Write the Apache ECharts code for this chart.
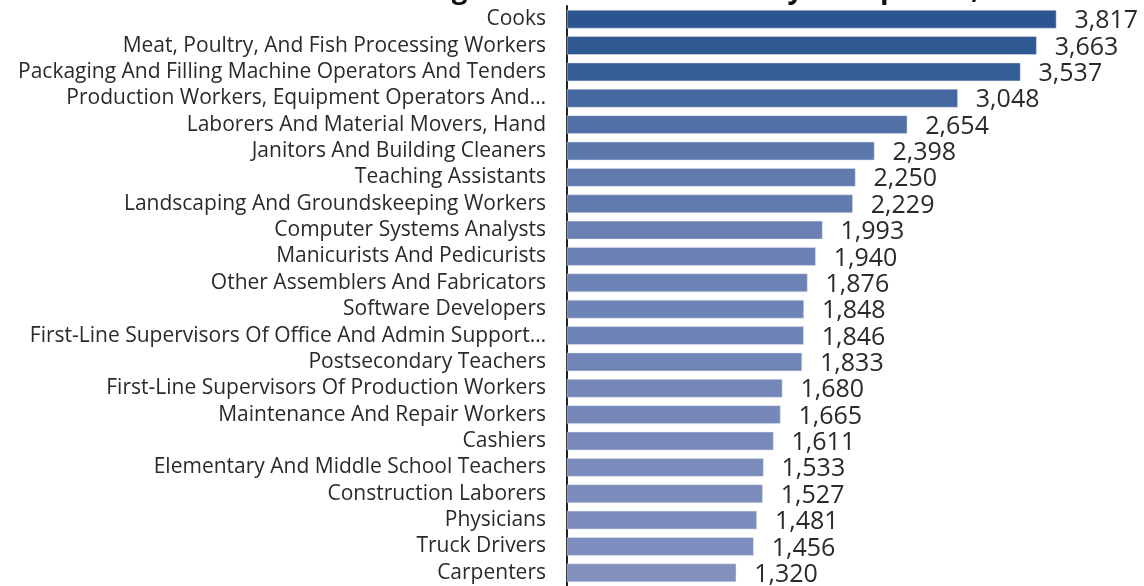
<!DOCTYPE html>
<html>
<head>
<meta charset="utf-8">
<script src="https://cdn.jsdelivr.net/npm/echarts@6/dist/echarts.min.js"></script>
<style>
  html, body { margin: 0; padding: 0; background: #fff; }
  #chart { width: 1144px; height: 586px; }
</style>
</head>
<body>
<div id="chart"></div>
<script>
var occupations = [
  "Cooks",
  "Meat, Poultry, And Fish Processing Workers",
  "Packaging And Filling Machine Operators And Tenders",
  "Production Workers, Equipment Operators And…",
  "Laborers And Material Movers, Hand",
  "Janitors And Building Cleaners",
  "Teaching Assistants",
  "Landscaping And Groundskeeping Workers",
  "Computer Systems Analysts",
  "Manicurists And Pedicurists",
  "Other Assemblers And Fabricators",
  "Software Developers",
  "First-Line Supervisors Of Office And Admin Support…",
  "Postsecondary Teachers",
  "First-Line Supervisors Of Production Workers",
  "Maintenance And Repair Workers",
  "Cashiers",
  "Elementary And Middle School Teachers",
  "Construction Laborers",
  "Physicians",
  "Truck Drivers",
  "Carpenters"
];
var counts = [3817, 3663, 3537, 3048, 2654, 2398, 2250, 2229, 1993, 1940, 1876,
  1848, 1846, 1833, 1680, 1665, 1611, 1533, 1527, 1481, 1456, 1320];

var titleText = "Most Hiring Demand Total Count by Occupation, 2021";

var chart = echarts.init(document.getElementById("chart"));
chart.setOption({
  animation: false,
  title: {
    text: titleText,
    left: 300,
    top: -29,
    textStyle: { fontFamily: "Open Sans", fontSize: 28, fontWeight: "bold", color: "#111" }
  },
  grid: { left: 567, right: 0, top: 6, bottom: 0 },
  visualMap: {
    show: false,
    dimension: 0,
    min: 1320,
    max: 3817,
    inRange: { color: ["#8290c0", "#2a5590"] }
  },
  xAxis: {
    type: "value",
    min: 0,
    max: 4500,
    show: false
  },
  yAxis: {
    type: "category",
    inverse: true,
    data: occupations,
    axisLine: { show: true, lineStyle: { color: "#222", width: 2 } },
    axisTick: { show: false },
    axisLabel: {
      interval: 0,
      margin: 21,
      fontFamily: "Open Sans",
      fontSize: 21,
      color: "#2a2a2a"
    }
  },
  series: [{
    type: "bar",
    data: counts,
    barCategoryGap: "30%",
    itemStyle: { borderColor: "#dfe4f0", borderWidth: 0.5 },
    label: {
      show: true,
      position: "right",
      distance: 18,
      offset: [0, 2],
      fontFamily: "Open Sans",
      fontSize: 25,
      color: "#2a2a2a",
      formatter: function (p) { return p.value.toLocaleString("en-US"); }
    }
  }]
});
</script>
</body>
</html>
